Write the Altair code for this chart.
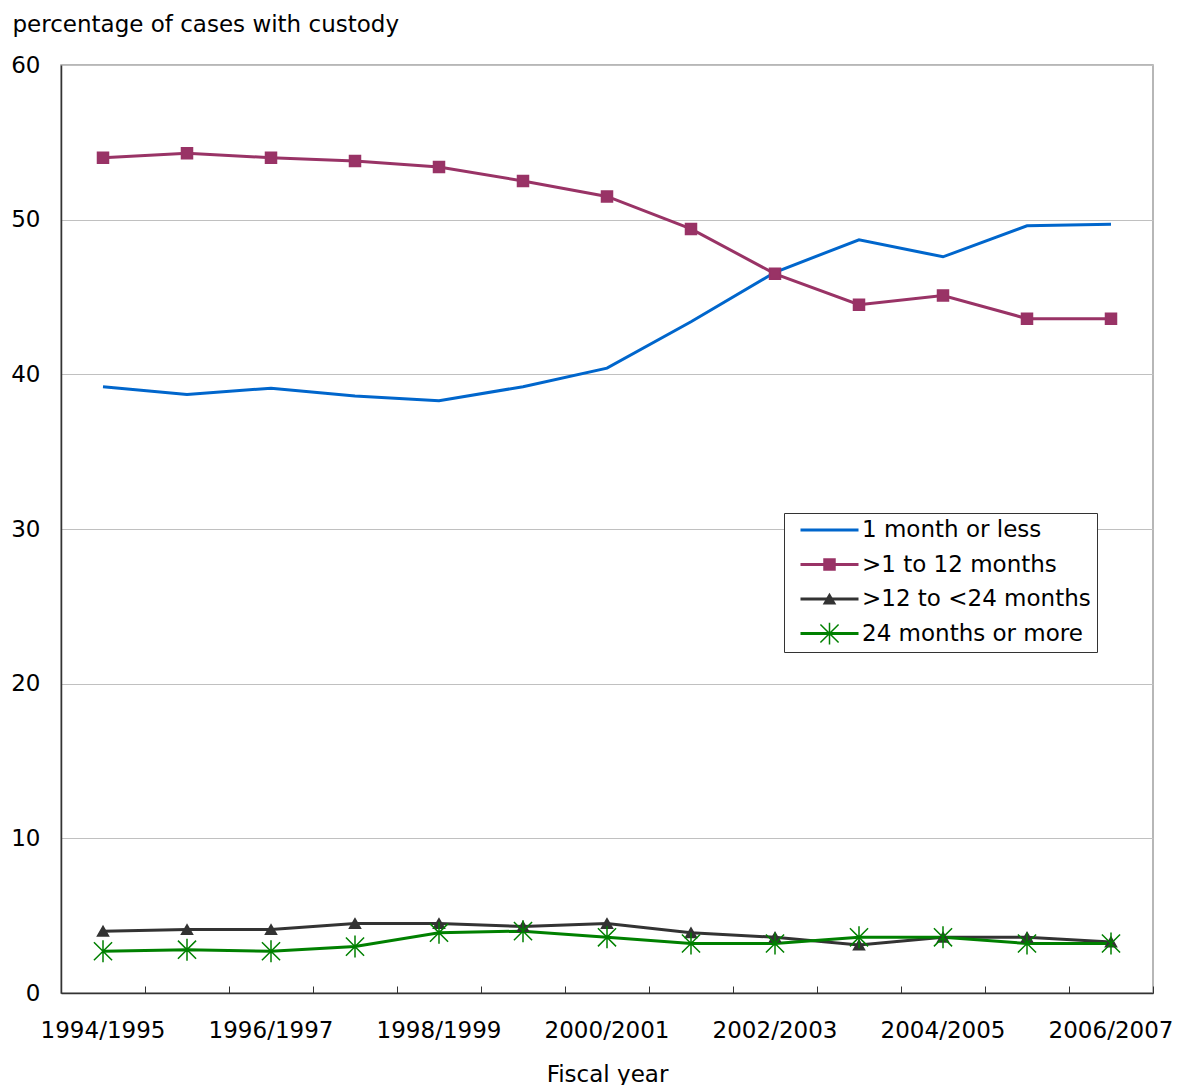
import altair as alt
import pandas as pd

years = ["1994/1995", "1995/1996", "1996/1997", "1997/1998", "1998/1999",
         "1999/2000", "2000/2001", "2001/2002", "2002/2003", "2003/2004",
         "2004/2005", "2005/2006", "2006/2007"]
series_names = ["1 month or less", ">1 to 12 months", ">12 to <24 months", "24 months or more"]

one_month_or_less = [39.2, 38.7, 39.1, 38.6, 38.3, 39.2, 40.4, 43.4, 46.6, 48.7, 47.6, 49.6, 49.7]
one_to_12_months = [54.0, 54.3, 54.0, 53.8, 53.4, 52.5, 51.5, 49.4, 46.5, 44.5, 45.1, 43.6, 43.6]
twelve_to_24_months = [4.0, 4.1, 4.1, 4.5, 4.5, 4.3, 4.5, 3.9, 3.6, 3.1, 3.6, 3.6, 3.3]
over_24_months = [2.7, 2.8, 2.7, 3.0, 3.9, 4.0, 3.6, 3.2, 3.2, 3.6, 3.6, 3.2, 3.2]

y_ticks = [0, 10, 20, 30, 40, 50, 60]

line_colors = ["#0066CC", "#993366", "#333333", "#008000"]
marker_fills = ["transparent", "#993366", "#333333", "transparent"]
marker_strokes = ["transparent", "#993366", "#333333", "#008000"]
marker_shapes = ["M0,0", "square", "triangle-up",
                 "M-1.65,-1.65L1.65,1.65M-1.65,1.65L1.65,-1.65M0,-2L0,2"]

marker_names = [s + " " for s in series_names]

rows = []
for name, mname, vals in zip(series_names, marker_names,
                             [one_month_or_less, one_to_12_months,
                              twelve_to_24_months, over_24_months]):
    for yr, v in zip(years, vals):
        rows.append({"year": yr, "series": name, "marker": mname, "value": v})
df = pd.DataFrame(rows)

W, H = 1092, 928
FONT = "DejaVu Sans"
FS = 23

x_scale = alt.Scale(type="band", domain=years, paddingInner=0, paddingOuter=0)
y_scale = alt.Scale(domain=[0, 60], nice=False)

y_enc = alt.Y(
    "value:Q", scale=y_scale,
    axis=alt.Axis(
        values=y_ticks, title="percentage of cases with custody",
        titleAngle=0, titleAlign="left", titleBaseline="alphabetic",
        titleX=-49, titleY=-34, titleFont=FONT, titleFontSize=FS,
        titleFontWeight="normal", titleColor="black",
        labelFont=FONT, labelFontSize=FS, labelColor="black", labelPadding=21,
        ticks=False, tickSize=0, domainColor="#333333", domainWidth=1.5,
        grid=True, gridColor="#c0c0c0", gridWidth=1,
    ),
)

x_bottom = alt.X(
    "year:O", scale=x_scale,
    axis=alt.Axis(
        orient="bottom", title="Fiscal year", labelAngle=0,
        labelExpr="parseInt(substring(datum.label, 0, 4)) % 2 == 0 ? datum.label : ''",
        ticks=False, tickSize=0, labelPadding=26, labelFont=FONT, labelFontSize=FS,
        labelColor="black", labelOverlap=False,
        titleFont=FONT, titleFontSize=FS, titleFontWeight="normal",
        titleColor="black", titlePadding=21,
        domainColor="#333333", domainWidth=1.5, grid=False,
    ),
)

x_ticks = alt.X(
    "year:O", scale=x_scale,
    axis=alt.Axis(
        orient="top", offset=-H, labels=False, ticks=True, tickSize=7,
        tickBand="extent", tickColor="#333333", tickWidth=1,
        domain=False, title=None, grid=False,
    ),
)

common_legend = dict(
    title=None, orient="none", legendX=723, legendY=448, labelFontSize=FS,
    labelFont=FONT, labelColor="black", labelLimit=500, padding=6,
    rowPadding=11.5, clipHeight=22, labelOffset=2,
)

line_legend = alt.Legend(
    symbolType="stroke", symbolSize=3364, symbolStrokeWidth=3, symbolOffset=9,
    strokeColor="#333333", fillColor="white", zindex=1, **common_legend,
)
marker_legend = alt.Legend(
    symbolSize=121, symbolStrokeWidth=1.5, symbolOffset=28,
    labelExpr="' '", zindex=2, **common_legend,
)

lines = alt.Chart(df).mark_line(strokeWidth=3).encode(
    x=x_bottom,
    y=y_enc,
    stroke=alt.Stroke("series:N",
                      scale=alt.Scale(domain=series_names, range=line_colors),
                      legend=line_legend),
)

points = alt.Chart(df).mark_point(size=121, strokeWidth=1.5, opacity=1, filled=False).encode(
    x=x_ticks,
    y=y_enc,
    color=alt.Color("marker:N",
                    scale=alt.Scale(domain=marker_names, range=marker_strokes),
                    legend=marker_legend),
    fill=alt.Fill("marker:N",
                  scale=alt.Scale(domain=marker_names, range=marker_fills),
                  legend=marker_legend),
    shape=alt.Shape("marker:N",
                    scale=alt.Scale(domain=marker_names, range=marker_shapes),
                    legend=marker_legend),
)

chart = (
    alt.layer(lines, points)
    .resolve_axis(x="independent")
    .properties(
        width=W, height=H,
        autosize=alt.AutoSizeParams(type="none"),
        padding={"left": 61, "top": 65, "right": 29, "bottom": 92},
        background="white",
    )
    .configure_view(stroke="#a0a0a0", strokeWidth=1.5)
)

chart.save("out.html", embed_options={"renderer": "svg", "actions": False})
